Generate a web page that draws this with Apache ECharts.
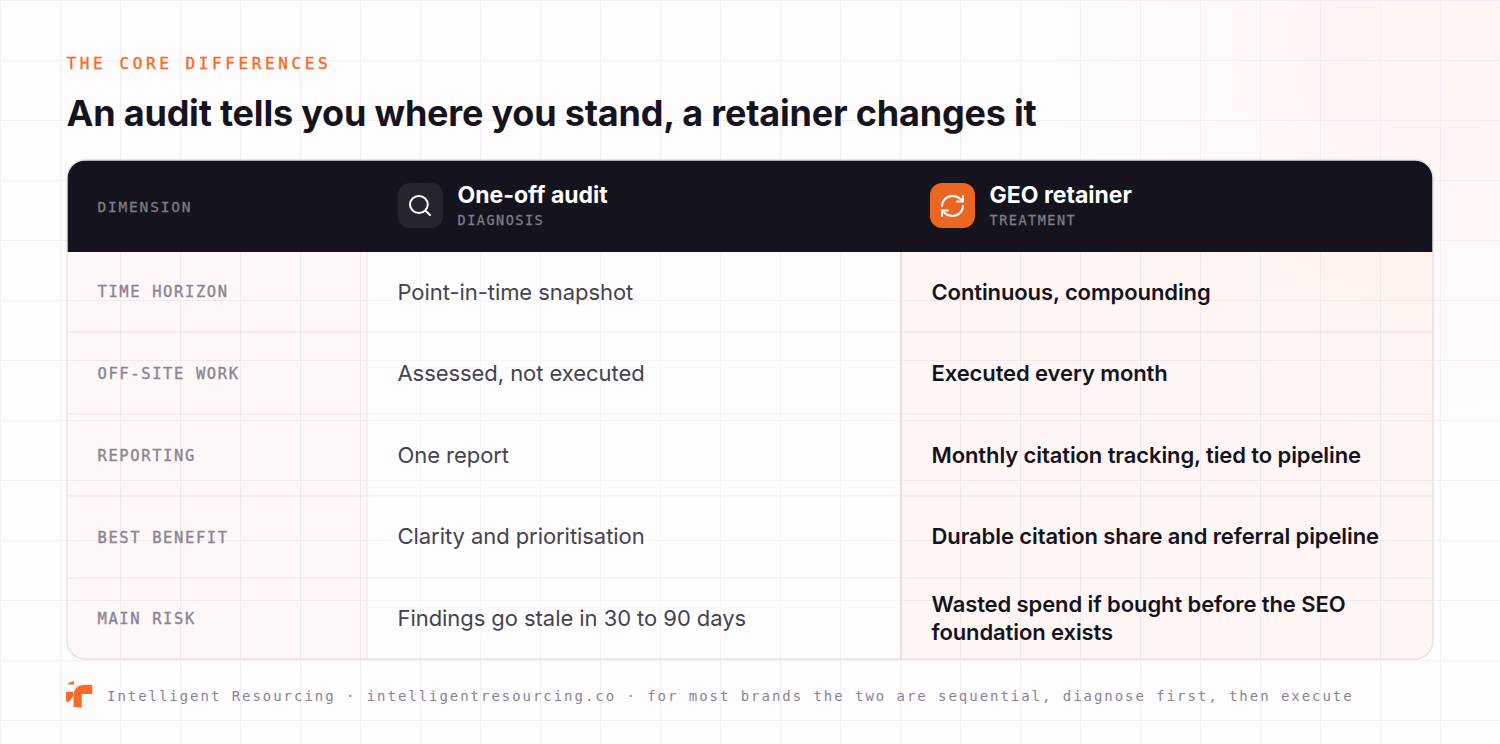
<!DOCTYPE html>
<html lang="en">

<head>
    <meta charset="UTF-8">
    <title>The core differences</title>
    <style>
        html, body { margin: 0; padding: 0; background: #fefcfd; }
        #main { width: 1500px; height: 744px; }
        /* zrender has no letter spacing, so it is set per font on the svg text */
        text[style*="16px"] { letter-spacing: 3.6px; }
        text[style*="36px"] { letter-spacing: -0.2px; }
        text[style*="15.5px"] { letter-spacing: 1.6px; }
        text[style*="14.5px"] { letter-spacing: 1.8px; }
        text[style*="13.5px"] { letter-spacing: 1.5px; }
        text[style*="14px"] { letter-spacing: 1.96px; }
        text[style*="600 22px"] { letter-spacing: -0.1px; }
        text[style*="400 22px"] { letter-spacing: -0.06px; }
    </style>
    <script src="https://cdn.jsdelivr.net/npm/echarts@6/dist/echarts.min.js"></script>
</head>

<body>
    <div id="main"></div>
    <script>
        var eyebrow = 'THE CORE DIFFERENCES';
        var headline = 'An audit tells you where you stand, a retainer changes it';
        var cornerLabel = 'DIMENSION';
        var columnTitles = ['One-off audit', 'GEO retainer'];
        var columnSubtitles = ['DIAGNOSIS', 'TREATMENT'];
        var dimensions = ['TIME HORIZON', 'OFF-SITE WORK', 'REPORTING', 'BEST BENEFIT', 'MAIN RISK'];
        var auditValues = [
            'Point-in-time snapshot',
            'Assessed, not executed',
            'One report',
            'Clarity and prioritisation',
            'Findings go stale in 30 to 90 days'
        ];
        var retainerValues = [
            'Continuous, compounding',
            'Executed every month',
            'Monthly citation tracking, tied to pipeline',
            'Durable citation share and referral pipeline',
            'Wasted spend if bought before the SEO\nfoundation exists'
        ];
        var footerNote = 'Intelligent Resourcing \u00b7 intelligentresourcing.co \u00b7 for most brands the two are sequential, diagnose first, then execute';

        // table edges on the page scale
        var colEdges = [67, 367, 901, 1433];
        var rowEdges = [252, 332, 414, 496, 578, 659];
        var headTop = 160;
        // text centres per row, the source does not sit them quite mid cell
        var labelY = [291.5, 374, 455.5, 537.5, 618.5];
        var valueY = [292, 373, 455, 536, 618];

        var INK = '#15141e';
        var ORANGE = '#f96a24';
        var SANS = 'Inter, "Noto Sans", sans-serif';
        var MONO = '"DejaVu Sans Mono", monospace';

        function txt(api, x, y, text, font, fill, weight, size, lineHeight, heavy) {
            var p = api.coord([x, y]);
            var style = {
                text: text,
                fill: fill,
                font: (weight || 400) + ' ' + size + 'px ' + font,
                lineHeight: lineHeight,
                textAlign: 'left',
                textVerticalAlign: 'middle'
            };
            if (heavy) {
                style.stroke = fill;
                style.lineWidth = heavy;
            }
            return { type: 'text', x: p[0], y: p[1], style: style };
        }

        function box(api, x0, y0, x1, y1, style, r) {
            var a = api.coord([x0, y0]), b = api.coord([x1, y1]);
            return {
                type: 'rect',
                shape: { x: a[0], y: a[1], width: b[0] - a[0], height: b[1] - a[1], r: r || 0 },
                style: style
            };
        }

        function icon(api, x, y, w, h, pathData, color) {
            var p = api.coord([x, y]);
            return {
                type: 'path',
                shape: { pathData: pathData, layout: 'cover', x: p[0], y: p[1], width: w, height: h },
                style: { fill: 'none', stroke: color, lineWidth: 2, lineCap: 'round', lineJoin: 'round' }
            };
        }

        function renderRow(params, api) {
            var i = api.value(0);
            var top = rowEdges[i], bottom = rowEdges[i + 1];
            var last = i === dimensions.length - 1;
            var kids = [
                box(api, colEdges[0], top, colEdges[1], bottom, { fill: 'rgba(240,90,50,0.03)' }, last ? [0, 0, 0, 18] : 0),
                box(api, colEdges[1], top, colEdges[2], bottom, { fill: 'rgba(255,255,255,0.4)' }),
                box(api, colEdges[2], top, colEdges[3], bottom, { fill: 'rgba(249,106,36,0.045)' }, last ? [0, 0, 18, 0] : 0),
                box(api, colEdges[1] - 1, top, colEdges[1] + 1, bottom, { fill: '#f6f0f0' }),
                box(api, colEdges[2] - 1, top, colEdges[2] + 1, bottom, { fill: '#f9dcca' })
            ];
            if (!last) {
                kids.push(box(api, colEdges[0], bottom - 1, colEdges[3], bottom + 1, { fill: 'rgba(60,40,60,0.045)' }));
            }
            kids.push(txt(api, 97.5, labelY[i], dimensions[i], MONO, '#8a8494', 400, 15.5, null, 0.35));
            kids.push(txt(api, 397.5, valueY[i], auditValues[i], SANS, '#45434f', 400, 22, 28));
            kids.push(txt(api, 931.5, valueY[i], retainerValues[i], SANS, INK, 600, 22, 28));
            return { type: 'group', children: kids };
        }

        function renderHead(params, api) {
            var kids = [
                box(api, colEdges[0], headTop, colEdges[3], rowEdges[0], { fill: INK }, [18, 18, 0, 0]),
                txt(api, 97.5, 207, cornerLabel, MONO, '#7f7c88', 400, 14.5, null, 0.3),
                box(api, 398, 183, 443, 228, { fill: '#26252e' }, 12),
                box(api, 930, 183, 975, 228, { fill: '#eb6622' }, 12),
                icon(api, 410, 196, 20, 19, 'M19 11a8 8 0 1 1-16 0 8 8 0 0 1 16 0Z M21 21l-4.3-4.3', '#fff'),
                icon(api, 942, 196, 21, 20, 'M3 12a9 9 0 0 1 9-9 9.75 9.75 0 0 1 6.74 2.74L21 8M21 3v5h-5M21 12a9 9 0 0 1-9 9 9.75 9.75 0 0 1-6.74-2.74L3 16M8 16H3v5', '#fff'),
                txt(api, 457.5, 195, columnTitles[0], SANS, '#fff', 700, 23),
                txt(api, 989.5, 195, columnTitles[1], SANS, '#fff', 700, 23),
                txt(api, 457.5, 220, columnSubtitles[0], MONO, '#7f7c88', 400, 13.5, null, 0.3),
                txt(api, 989.5, 220, columnSubtitles[1], MONO, '#7f7c88', 400, 13.5, null, 0.3)
            ];
            return { type: 'group', children: kids };
        }

        function renderPage(params, api) {
            return {
                type: 'group',
                children: [
                    txt(api, 66.5, 63, eyebrow, MONO, ORANGE, 400, 16, null, 0.4),
                    txt(api, 66.5, 113, headline, SANS, INK, 700, 36),
                    txt(api, 107, 696, footerNote, MONO, '#8a8596', 400, 14),
                    // logo mark
                    { type: 'polygon', shape: { points: [[68.5, 683], [74, 681], [74, 684.5], [68, 684.5]] }, style: { fill: ORANGE } },
                    { type: 'polygon', shape: { points: [[66, 691.7], [73.3, 691.7], [73.3, 696], [69.3, 701.7], [66, 701.7]] }, style: { fill: ORANGE } },
                    { type: 'path', shape: { pathData: 'M92.3 685V694H82.5Q81.7 694 81.7 696V707.7L73.5 707V695Q74 689 78 686.5Q80 685 84 685Z' }, style: { fill: ORANGE } }
                ]
            };
        }

        function renderFrame(params, api) {
            return box(api, colEdges[0], headTop, colEdges[3], rowEdges[5], { fill: 'none', stroke: '#e7e1e6', lineWidth: 1.5 }, 18);
        }

        var mainChart = echarts.init(document.getElementById('main'), null, { renderer: 'svg' });

        var option = {
            animation: false,
            backgroundColor: '#fefcfd',
            grid: { left: 0, right: 0, top: 0, bottom: 0 },
            xAxis: {
                type: 'value', min: 0, max: 1500, interval: 60,
                axisLine: { show: false }, axisTick: { show: false }, axisLabel: { show: false },
                splitLine: { show: true, lineStyle: { color: '#f3eef1', width: 1 } }
            },
            yAxis: {
                type: 'value', min: 0, max: 744, interval: 60, inverse: true,
                axisLine: { show: false }, axisTick: { show: false }, axisLabel: { show: false },
                splitLine: { show: true, lineStyle: { color: '#f3eef1', width: 1 } }
            },
            graphic: [{
                type: 'rect', z: -1, silent: true,
                shape: { x: 900, y: 0, width: 600, height: 460 },
                style: {
                    fill: new echarts.graphic.RadialGradient(1440, 40, 400, [
                        { offset: 0, color: 'rgba(249,106,36,0.06)' },
                        { offset: 1, color: 'rgba(249,106,36,0)' }
                    ], true)
                }
            }],
            series: [
                { type: 'custom', silent: true, z: 3, clip: false, data: [[0]], renderItem: renderPage },
                { type: 'custom', silent: true, z: 4, clip: false, data: dimensions.map(function (d, i) { return [i]; }), renderItem: renderRow },
                { type: 'custom', silent: true, z: 5, clip: false, data: [[0]], renderItem: renderHead },
                { type: 'custom', silent: true, z: 6, clip: false, data: [[0]], renderItem: renderFrame }
            ]
        };

        mainChart.setOption(option);
    </script>
</body>

</html>
